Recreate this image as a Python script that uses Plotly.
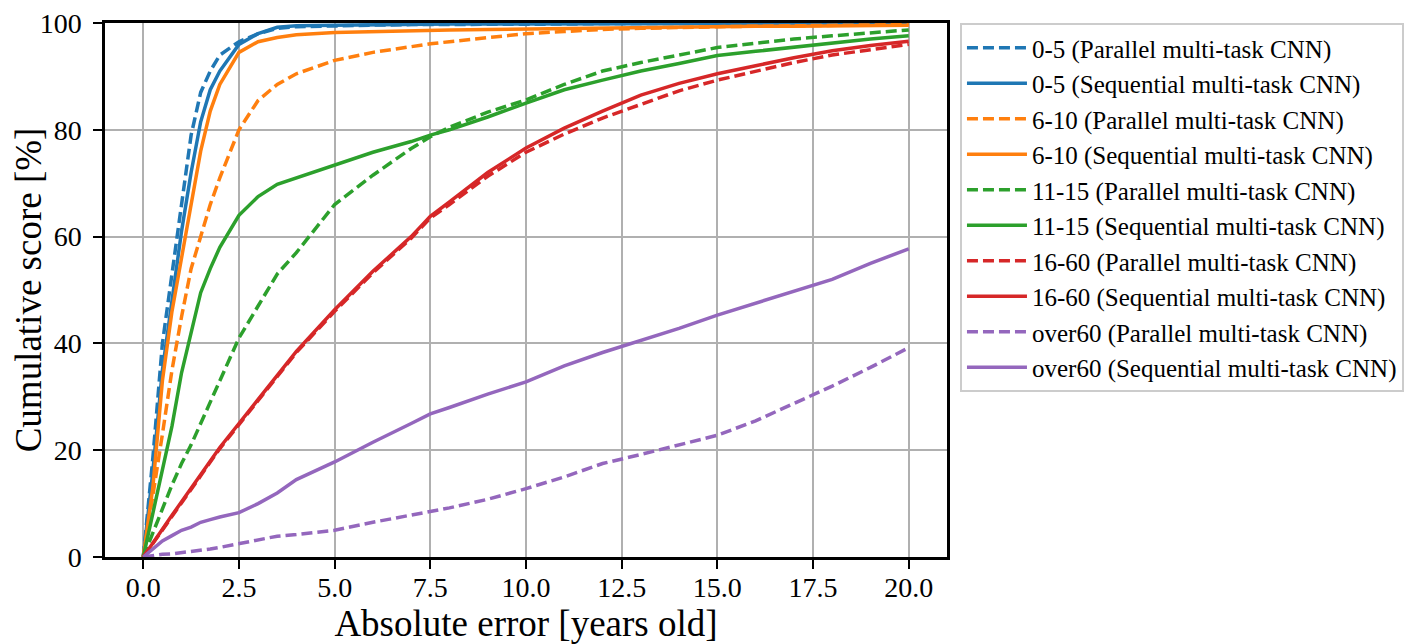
import plotly.graph_objects as go

# absolute error [years old]
err = [0, 0.25, 0.5, 0.75, 1, 1.25, 1.5, 1.75, 2, 2.5, 3, 3.5, 4, 5, 6, 7, 7.5, 8,
       9, 10, 11, 12, 13, 14, 15, 16, 17, 18, 19, 20]

# cumulative score [%] per age group and model
a0_5_par = [0, 18.5, 40, 53, 67, 79, 87, 91, 94, 96.5, 98, 99, 99.3, 99.5, 99.6, 99.7, 99.7, 99.7,
            99.8, 99.8, 99.8, 99.9, 99.9, 99.9, 99.9, 100, 100, 100, 100, 100]
a0_5_seq = [0, 16, 35, 48, 61, 72, 81.5, 87.5, 91, 96, 98, 99.2, 99.5, 99.6, 99.7, 99.7, 99.7, 99.8,
            99.8, 99.8, 99.8, 99.9, 99.9, 99.9, 99.9, 99.9, 100, 100, 100, 100]
a6_10_par = [0, 11, 23, 35, 45, 54, 60, 66, 71, 80, 85.5, 88.5, 90.5, 93, 94.5, 95.6, 96.1, 96.5,
             97.3, 98, 98.4, 98.8, 99, 99.2, 99.3, 99.4, 99.5, 99.6, 99.7, 99.7]
a6_10_seq = [0, 13, 33, 46, 56, 66, 76, 83.5, 88.5, 94.5, 96.5, 97.3, 97.8, 98.2, 98.4, 98.5, 98.6, 98.7,
             98.8, 98.9, 99, 99.1, 99.2, 99.2, 99.3, 99.4, 99.4, 99.5, 99.5, 99.6]
a11_15_par = [0, 4.5, 9, 13.5, 17.5, 21, 25, 29, 33, 41, 47, 53, 57, 66, 71.5, 76.5, 78.7, 80.5,
              83.3, 85.6, 88.5, 91, 92.6, 94, 95.4, 96.2, 97, 97.6, 98.2, 98.7]
a11_15_seq = [0, 8, 16, 24.5, 34.5, 42, 49.5, 54, 58, 64, 67.5, 69.8, 71, 73.3, 75.8, 77.8, 79, 80,
              82.4, 85, 87.5, 89.3, 91, 92.4, 93.9, 94.7, 95.5, 96.3, 97, 97.6]
a16_60_par = [0, 2.5, 5.1, 7.7, 10.2, 12.7, 15.2, 17.8, 20.3, 24.8, 29.3, 33.8, 38.3, 46, 53.2, 59.7, 63.5, 66,
              71.3, 75.8, 79.2, 82.2, 84.8, 87.3, 89.3, 91, 92.6, 94, 95, 96]
a16_60_seq = [0, 2.5, 5.2, 7.8, 10.3, 12.8, 15.3, 18, 20.5, 25, 29.5, 34, 38.5, 46.3, 53.5, 60, 63.8, 66.5,
              72, 76.6, 80.3, 83.5, 86.5, 88.7, 90.5, 92, 93.5, 94.8, 95.8, 96.6]
over60_par = [0, 0.3, 0.5, 0.6, 0.8, 1, 1.2, 1.5, 1.8, 2.5, 3.2, 3.9, 4.2, 5, 6.5, 7.8, 8.5, 9.2,
              10.8, 12.8, 15, 17.5, 19.2, 21, 22.8, 25.5, 28.8, 32, 35.5, 39.2]
over60_seq = [0, 1.5, 3, 4, 5, 5.6, 6.5, 7, 7.5, 8.3, 10, 12, 14.5, 17.8, 21.5, 25, 26.8, 28,
              30.5, 32.8, 35.8, 38.3, 40.6, 42.8, 45.3, 47.5, 49.8, 52, 55, 57.7]

groups = ["0-5", "6-10", "11-15", "16-60", "over60"]
colors = ["#1f77b4", "#ff7f0e", "#2ca02c", "#d62728", "#9467bd"]
par = [a0_5_par, a6_10_par, a11_15_par, a16_60_par, over60_par]
seq = [a0_5_seq, a6_10_seq, a11_15_seq, a16_60_seq, over60_seq]

fig = go.Figure()
for g, c, p, s in zip(groups, colors, par, seq):
    fig.add_trace(go.Scatter(x=err, y=p, mode="lines", name=f"{g} (Parallel multi-task CNN)",
                             legendgroup=g + "p",
                             line=dict(color=c, width=3.5, dash="11px,5px")))
    fig.add_trace(go.Scatter(x=err, y=s, mode="lines", name=f"{g} (Sequential multi-task CNN)",
                             legendgroup=g + "s",
                             line=dict(color=c, width=3.5)))

axis_common = dict(
    showline=True, linecolor="black", linewidth=2.5, mirror=True,
    ticks="outside", ticklen=9, tickwidth=2, tickcolor="black",
    showgrid=True, gridcolor="#b0b0b0", gridwidth=2,
    zeroline=False, automargin=False, ticklabeloverflow="allow",
    tickfont=dict(family="Liberation Serif", size=28, color="black"),
)

fig.update_xaxes(range=[-1, 21], tickvals=[0, 2.5, 5, 7.5, 10, 12.5, 15, 17.5, 20],
                 ticktext=["0.0", "2.5", "5.0", "7.5", "10.0", "12.5", "15.0", "17.5", "20.0"],
                 ticklabelstandoff=-5,
                 title=dict(text="Absolute error [years old]", standoff=0,
                            font=dict(family="Liberation Serif", size=37, color="black")),
                 **axis_common)
fig.update_yaxes(range=[0, 100], tickvals=[0, 20, 40, 60, 80, 100], ticklabelstandoff=6,
                 title=dict(text="Cumulative score [%]", standoff=0,
                            font=dict(family="Liberation Serif", size=37, color="black")),
                 **axis_common)

fig.update_layout(
    width=1418, height=644,
    margin=dict(l=97, r=479, t=15, b=95),
    plot_bgcolor="white", paper_bgcolor="white",
    legend=dict(x=1.0154, y=1.0, xanchor="left", yanchor="top",
                traceorder="grouped", tracegroupgap=0, itemwidth=60,
                bordercolor="#cccccc", borderwidth=2, bgcolor="white",
                font=dict(family="Liberation Serif", size=25, color="black")),
)

fig.write_html("out.html")
